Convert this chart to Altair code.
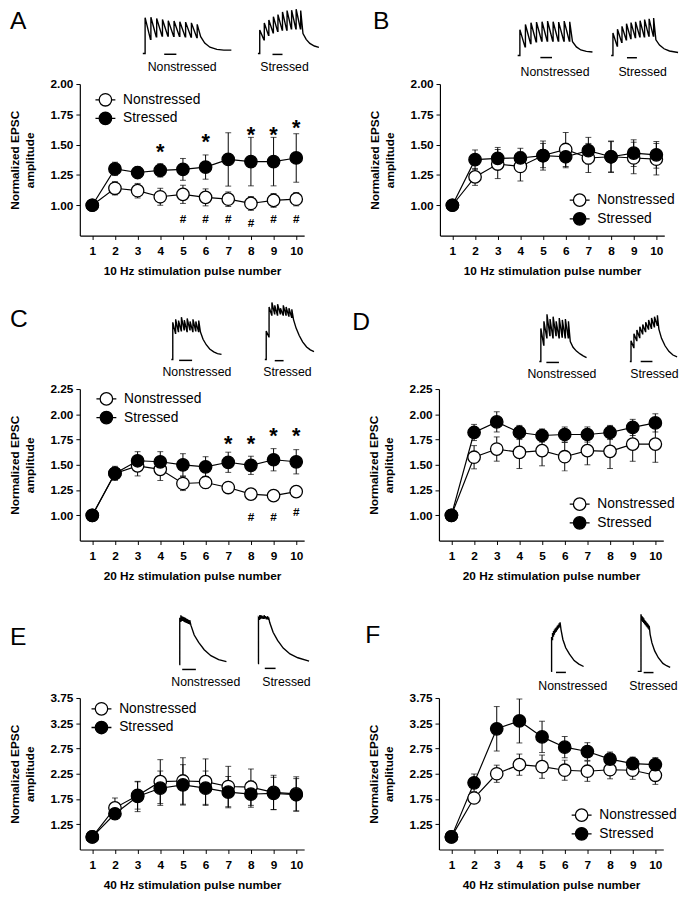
import altair as alt
import pandas as pd

FONT = "Liberation Sans"
PULSES = [1, 2, 3, 4, 5, 6, 7, 8, 9, 10]
GROUPS = ["Nonstressed", "Stressed"]
Y_TITLE = ["Normalized EPSC", "amplitude"]

# ---------------- summary data (mean, s.e.m.) ----------------
A_NS = [1.00, 1.14, 1.12, 1.07, 1.09, 1.065, 1.05, 1.015, 1.04, 1.05]
A_NS_ERR = [0, 0.055, 0.06, 0.07, 0.075, 0.07, 0.06, 0.057, 0.057, 0.055]
A_ST = [1.00, 1.30, 1.27, 1.288, 1.296, 1.315, 1.378, 1.36, 1.36, 1.39]
A_ST_ERR = [0, 0.055, 0.05, 0.055, 0.09, 0.10, 0.22, 0.20, 0.20, 0.20]
A_STAR_X = [4, 6, 8, 9, 10]
A_STAR_Y = [1.478, 1.565, 1.62, 1.62, 1.674]
A_HASH_X = [5, 6, 7, 8, 9, 10]
A_HASH_Y = [0.886, 0.886, 0.886, 0.853, 0.886, 0.886]

B_NS = [1.00, 1.234, 1.34, 1.32, 1.41, 1.46, 1.39, 1.40, 1.39, 1.38]
B_NS_ERR = [0, 0.07, 0.12, 0.12, 0.10, 0.14, 0.12, 0.13, 0.13, 0.13]
B_ST = [1.00, 1.376, 1.387, 1.39, 1.41, 1.40, 1.45, 1.40, 1.43, 1.416]
B_ST_ERR = [0, 0.08, 0.09, 0.08, 0.12, 0.09, 0.11, 0.125, 0.11, 0.11]

C_NS = [1.00, 1.415, 1.49, 1.455, 1.315, 1.325, 1.275, 1.21, 1.195, 1.235]
C_NS_ERR = [0, 0.06, 0.10, 0.11, 0.07, 0.06, 0.05, 0.05, 0.03, 0.03]
C_ST = [1.00, 1.415, 1.54, 1.53, 1.50, 1.48, 1.525, 1.495, 1.55, 1.53]
C_ST_ERR = [0, 0.07, 0.09, 0.10, 0.11, 0.10, 0.10, 0.09, 0.11, 0.12]
C_STAR_X = [7, 8, 9, 10]
C_STAR_Y = [1.756, 1.756, 1.828, 1.828]
C_HASH_X = [8, 9, 10]
C_HASH_Y = [0.984, 0.984, 1.032]

D_NS = [1.00, 1.575, 1.656, 1.623, 1.64, 1.58, 1.64, 1.633, 1.705, 1.705]
D_NS_ERR = [0, 0.115, 0.12, 0.16, 0.15, 0.14, 0.14, 0.17, 0.17, 0.18]
D_ST = [1.00, 1.82, 1.925, 1.82, 1.79, 1.80, 1.80, 1.82, 1.87, 1.915]
D_ST_ERR = [0, 0.08, 0.10, 0.07, 0.065, 0.075, 0.075, 0.07, 0.08, 0.09]

E_NS = [1.00, 1.575, 1.82, 2.094, 2.107, 2.094, 1.997, 1.984, 1.88, 1.85]
E_NS_ERR = [0, 0.195, 0.27, 0.435, 0.46, 0.45, 0.40, 0.36, 0.34, 0.34]
E_ST = [1.00, 1.458, 1.80, 1.964, 2.03, 1.964, 1.886, 1.847, 1.86, 1.834]
E_ST_ERR = [0, 0.10, 0.30, 0.34, 0.40, 0.34, 0.31, 0.26, 0.32, 0.32]

F_NS = [1.00, 1.77, 2.25, 2.43, 2.39, 2.32, 2.30, 2.33, 2.32, 2.22]
F_NS_ERR = [0, 0.08, 0.17, 0.21, 0.23, 0.20, 0.20, 0.18, 0.18, 0.18]
F_ST = [1.00, 2.07, 3.14, 3.295, 2.98, 2.776, 2.69, 2.54, 2.45, 2.43]
F_ST_ERR = [0, 0.175, 0.44, 0.435, 0.31, 0.21, 0.175, 0.14, 0.13, 0.14]

Y_TICKS_2 = [1.00, 1.25, 1.50, 1.75, 2.00]
Y_TICKS_225 = [1.00, 1.25, 1.50, 1.75, 2.00, 2.25]
Y_TICKS_375 = [1.25, 1.75, 2.25, 2.75, 3.25, 3.75]

# ---------------- example EPSC traces (normalized) ----------------
TR_A_NS = dict(pre=-0.4, peaks=[0.96, 0.97, 0.94, 0.91, 0.88, 0.87, 0.85, 0.84, 0.82, 0.78],
               troughs=[0.38, 0.45, 0.47, 0.47, 0.46, 0.46, 0.45, 0.44, 0.43],
               tail=[(0.6, 0.45), (1.3, 0.28), (2.2, 0.17), (3.4, 0.11), (4.6, 0.09), (5.9, 0.09)],
               bar=(3.3, 5.4, -0.02))
TR_A_ST = dict(pre=-0.4, peaks=[0.53, 0.69, 0.76, 0.83, 0.88, 0.94, 0.97, 0.98, 1.0, 0.97],
               troughs=[0.31, 0.41, 0.47, 0.5, 0.53, 0.53, 0.56, 0.56, 0.56],
               tail=[(0.5, 0.45), (1.2, 0.32), (2.0, 0.23), (3.0, 0.17), (4.0, 0.14)],
               bar=(2.8, 5.0, -0.02))
TR_B_NS = dict(pre=-0.4, peaks=[0.75, 0.9, 0.95, 0.97, 0.98, 1.0, 0.98, 0.97, 1.0, 0.98],
               troughs=[0.25, 0.35, 0.4, 0.42, 0.42, 0.42, 0.42, 0.42, 0.42],
               tail=[(0.5, 0.4), (1.2, 0.25), (2.0, 0.16), (3.0, 0.12), (4.1, 0.1)],
               bar=(3.7, 5.8, -0.06))
TR_B_ST = dict(pre=-0.4, peaks=[0.6, 0.7, 0.78, 0.85, 0.88, 0.9, 0.93, 0.96, 0.98, 1.0],
               troughs=[0.25, 0.35, 0.42, 0.45, 0.48, 0.5, 0.5, 0.52, 0.52],
               tail=[(0.5, 0.42), (1.3, 0.28), (2.3, 0.18), (3.5, 0.12), (5.4, 0.08)],
               bar=(3.1, 5.3, -0.06))
TR_C_NS = dict(pre=-0.5, peaks=[0.88, 0.95, 0.92, 1.0, 0.93, 0.97, 0.9, 0.95, 0.9, 0.92],
               troughs=[0.62, 0.66, 0.68, 0.7, 0.66, 0.7, 0.66, 0.68, 0.66],
               tail=[(0.6, 0.65), (1.5, 0.48), (2.6, 0.35), (3.8, 0.25), (5.2, 0.18), (6.5, 0.14), (7.9, 0.12)],
               bar=(2.2, 6.7, -0.02))
TR_C_ST = dict(pre=-0.5, peaks=[0.5, 0.92, 1.0, 0.95, 0.97, 0.9, 0.95, 0.92, 0.9, 0.88],
               troughs=[0.4, 0.78, 0.8, 0.78, 0.8, 0.78, 0.78, 0.76, 0.74],
               tail=[(0.6, 0.7), (1.5, 0.55), (2.6, 0.42), (3.8, 0.31), (5.2, 0.22), (6.5, 0.17), (7.8, 0.14)],
               bar=(3.0, 6.1, -0.02))
TR_D_NS = dict(pre=-0.5, peaks=[0.7, 0.85, 1.0, 0.9, 0.95, 0.85, 0.92, 0.88, 0.9, 0.85],
               troughs=[0.35, 0.5, 0.55, 0.5, 0.55, 0.5, 0.52, 0.5, 0.5],
               tail=[(0.6, 0.42), (1.5, 0.3), (2.6, 0.22), (3.8, 0.16), (4.8, 0.12), (5.9, 0.08)],
               bar=(1.8, 5.9, -0.02))
TR_D_ST = dict(pre=-0.4, peaks=[0.45, 0.6, 0.68, 0.75, 0.8, 0.85, 0.9, 0.94, 0.97, 1.0],
               troughs=[0.3, 0.45, 0.52, 0.6, 0.65, 0.7, 0.72, 0.75, 0.78],
               tail=[(0.5, 0.7), (1.4, 0.5), (2.6, 0.34), (3.9, 0.22), (5.3, 0.14), (6.7, 0.1)],
               bar=(3.3, 7.3, 0.0))
TR_E_NS = dict(pre=-0.5, peaks=[0.95, 1.0, 0.98, 0.97, 0.96, 0.95, 0.93, 0.92, 0.9, 0.9],
               troughs=[0.88, 0.9, 0.9, 0.88, 0.87, 0.86, 0.85, 0.84, 0.83],
               tail=[(1, 0.8), (4, 0.6), (8, 0.45), (13, 0.3), (19, 0.18), (26, 0.1), (33, 0.06)],
               bar=(2.2, 14.5, -0.1))
TR_E_ST = dict(pre=-0.5, peaks=[0.95, 1.0, 1.0, 0.99, 0.98, 1.0, 0.98, 0.97, 0.98, 0.96],
               troughs=[0.92, 0.94, 0.95, 0.94, 0.94, 0.95, 0.93, 0.93, 0.92],
               tail=[(1, 0.85), (4, 0.65), (8, 0.48), (13, 0.32), (19, 0.2), (26, 0.12), (36, 0.05)],
               bar=(5.6, 15.2, -0.1))
TR_F_NS = dict(pre=-0.5, peaks=[0.7, 0.78, 0.82, 0.85, 0.88, 0.9, 0.93, 0.95, 0.98, 1.0],
               troughs=[0.65, 0.72, 0.76, 0.8, 0.82, 0.85, 0.88, 0.9, 0.92],
               tail=[(1, 0.85), (3, 0.65), (6, 0.48), (10, 0.35), (15, 0.22), (20, 0.15), (25, 0.1)],
               bar=(4.7, 15.2, -0.02))
TR_F_ST = dict(pre=-3.6, peaks=[1.0, 0.97, 0.95, 0.93, 0.9, 0.88, 0.86, 0.84, 0.82, 0.8],
               troughs=[0.9, 0.88, 0.86, 0.84, 0.82, 0.8, 0.78, 0.76, 0.74],
               tail=[(1, 0.65), (3, 0.5), (6, 0.36), (10, 0.24), (15, 0.14), (19, 0.1), (23, 0.07)],
               bar=(2.9, 13.7, -0.02))

# ---------------- layout (pixels relative to each plot area) ----------------
W, H = 228, 154
LAYOUT = {
    "A": dict(leg=(19, 9), ns_x=(64, 154), ns_y=(-31, -69), st_x=(181, 243), st_y=(-31, -76),
              lab_ns=(104, -17), lab_st=(208, -17), letter=(-71, -76)),
    "B": dict(leg=(135, 111), ns_x=(79, 155), ns_y=(-29, -64), st_x=(174, 242), st_y=(-29, -67),
              lab_ns=(117, -12), lab_st=(206, -12), letter=(-68, -76)),
    "C": dict(leg=(20, 3), ns_x=(93, 144), ns_y=(-30, -73), st_x=(188, 238), st_y=(-30, -88),
              lab_ns=(119, -17), lab_st=(211, -17), letter=(-71, -83)),
    "D": dict(leg=(136, 110), ns_x=(102, 150), ns_y=(-28, -76), st_x=(194, 242), st_y=(-28, -75),
              lab_ns=(125, -15), lab_st=(219, -15), letter=(-88, -80)),
    "E": dict(leg=(15, 4), ns_x=(101, 149), ns_y=(-34, -84), st_x=(181, 233), st_y=(-35, -84),
              lab_ns=(128, -16), lab_st=(210, -16), letter=(-71, -74)),
    "F": dict(leg=(138, 112), ns_x=(114, 147), ns_y=(-27, -77), st_x=(202, 235), st_y=(-27, -85),
              lab_ns=(136, -12), lab_st=(218, -12), letter=(-75, -76)),
}

SYMBOL = "M-1.6,0L-1,0M1,0L1.6,0M1,0A1,1,0,1,1,-1,0A1,1,0,1,1,1,0Z"


def main_chart(ns, ns_err, st, st_err, ydom, yvals, xtitle, leg,
               star_x=None, star_y=None, hash_x=None, hash_y=None):
    rows = []
    for g, ms, es in ((GROUPS[0], ns, ns_err), (GROUPS[1], st, st_err)):
        for p, m, e in zip(PULSES, ms, es):
            rows.append(dict(pulse=p, group=g, mean=m, lo=m - e, hi=m + e))
    df = pd.DataFrame(rows)
    xs = alt.Scale(domain=[0.45, 10.35], nice=False, zero=False)
    ys = alt.Scale(domain=ydom, nice=False, zero=False)
    xax = alt.Axis(values=PULSES, format="d", title=xtitle, labelPadding=6, titlePadding=10)
    yax = alt.Axis(values=yvals, format=".2f", title=Y_TITLE, labelPadding=3,
                   titlePadding=14, titleLineHeight=15)

    def X(f):
        return alt.X(f, scale=xs, axis=xax)

    def Y(f):
        return alt.Y(f, scale=ys, axis=yax)

    base = alt.Chart(df)
    rules = base.mark_rule(color="black", strokeWidth=1).encode(x=X("pulse:Q"), y=Y("lo:Q"), y2="hi:Q")
    cap_hi = base.mark_tick(orient="horizontal", color="black", size=6, thickness=1).encode(
        x=X("pulse:Q"), y=Y("hi:Q"))
    cap_lo = base.mark_tick(orient="horizontal", color="black", size=6, thickness=1).encode(
        x=X("pulse:Q"), y=Y("lo:Q"))
    lines = base.mark_line(color="black", strokeWidth=1.2).encode(
        x=X("pulse:Q"), y=Y("mean:Q"), detail="group:N")
    pts = base.mark_point(shape="circle", filled=True, size=160, stroke="black",
                          strokeWidth=1.3, opacity=1).encode(
        x=X("pulse:Q"), y=Y("mean:Q"),
        fill=alt.Fill("group:N", scale=alt.Scale(domain=GROUPS, range=["white", "black"]),
                      legend=alt.Legend(title=None, orient="none", legendX=leg[0], legendY=leg[1],
                                        symbolType=SYMBOL, symbolSize=160, symbolStrokeColor="black",
                                        symbolStrokeWidth=1.3, symbolOpacity=1,
                                        labelFont=FONT, labelFontSize=14, labelColor="black",
                                        labelOffset=11, rowPadding=1, padding=0)))
    layers = [rules, cap_hi, cap_lo, lines, pts]
    if star_x:
        sdf = pd.DataFrame({"pulse": star_x, "yv": star_y})
        layers.append(alt.Chart(sdf).mark_text(text="*", font=FONT, fontSize=22, fontWeight="bold",
                                               baseline="alphabetic", dy=12, color="black").encode(
            x=X("pulse:Q"), y=Y("yv:Q")))
    if hash_x:
        hdf = pd.DataFrame({"pulse": hash_x, "yv": hash_y})
        layers.append(alt.Chart(hdf).mark_text(text="#", font=FONT, fontSize=12, fontWeight="bold",
                                               baseline="middle", color="black").encode(
            x=X("pulse:Q"), y=Y("yv:Q")))
    return alt.layer(*layers)


def trace_df(tr):
    pts = [(tr["pre"], 0.0), (0.0, 0.0)]
    prev = 0.0
    n = len(tr["peaks"])
    for i, p in enumerate(tr["peaks"]):
        pts.append((i, prev))
        pts.append((i, p))
        if i < len(tr["troughs"]):
            pts.append((i + 0.92, tr["troughs"][i]))
            prev = tr["troughs"][i]
    for dt, v in tr["tail"]:
        pts.append((n - 1 + dt, v))
    return pd.DataFrame({"k": list(range(len(pts))), "t": [a for a, _ in pts], "v": [b for _, b in pts]})


def trace_chart(tr, xr, yr):
    df = trace_df(tr)
    t_end = len(tr["peaks"]) - 1 + tr["tail"][-1][0]
    xs = alt.Scale(domain=[tr["pre"], t_end], range=list(xr), nice=False, zero=False)
    ys = alt.Scale(domain=[0, 1], range=list(yr), nice=False, zero=False)
    line = alt.Chart(df).mark_line(color="black", strokeWidth=1.4).encode(
        x=alt.X("t:Q", scale=xs, axis=None), y=alt.Y("v:Q", scale=ys, axis=None), order="k:Q")
    bdf = pd.DataFrame({"t0": [tr["bar"][0]], "t1": [tr["bar"][1]], "v": [tr["bar"][2]]})
    bar = alt.Chart(bdf).mark_rule(color="black", strokeWidth=1.5).encode(
        x=alt.X("t0:Q", scale=xs, axis=None), x2="t1:Q", y=alt.Y("v:Q", scale=ys, axis=None))
    return alt.layer(line, bar)


def label(txt, pos, size=12.5, align="center", baseline="middle"):
    return alt.Chart(pd.DataFrame({"d": [0]})).mark_text(
        text=txt, font=FONT, fontSize=size, align=align, baseline=baseline, color="black").encode(
        x=alt.value(pos[0]), y=alt.value(pos[1]))


def panel(key, main, tr_ns, tr_st):
    L = LAYOUT[key]
    return alt.layer(
        main,
        trace_chart(tr_ns, L["ns_x"], L["ns_y"]),
        trace_chart(tr_st, L["st_x"], L["st_y"]),
        label("Nonstressed", L["lab_ns"]),
        label("Stressed", L["lab_st"]),
        label(key, L["letter"], size=25, align="left", baseline="top"),
    ).resolve_scale(x="independent", y="independent").properties(width=W, height=H)


pA = panel("A", main_chart(A_NS, A_NS_ERR, A_ST, A_ST_ERR, [0.75, 2.0], Y_TICKS_2,
                           "10 Hz stimulation pulse number", LAYOUT["A"]["leg"],
                           A_STAR_X, A_STAR_Y, A_HASH_X, A_HASH_Y), TR_A_NS, TR_A_ST)
pB = panel("B", main_chart(B_NS, B_NS_ERR, B_ST, B_ST_ERR, [0.75, 2.0], Y_TICKS_2,
                           "10 Hz stimulation pulse number", LAYOUT["B"]["leg"]), TR_B_NS, TR_B_ST)
pC = panel("C", main_chart(C_NS, C_NS_ERR, C_ST, C_ST_ERR, [0.75, 2.25], Y_TICKS_225,
                           "20 Hz stimulation pulse number", LAYOUT["C"]["leg"],
                           C_STAR_X, C_STAR_Y, C_HASH_X, C_HASH_Y), TR_C_NS, TR_C_ST)
pD = panel("D", main_chart(D_NS, D_NS_ERR, D_ST, D_ST_ERR, [0.75, 2.25], Y_TICKS_225,
                           "20 Hz stimulation pulse number", LAYOUT["D"]["leg"]), TR_D_NS, TR_D_ST)
pE = panel("E", main_chart(E_NS, E_NS_ERR, E_ST, E_ST_ERR, [0.75, 3.75], Y_TICKS_375,
                           "40 Hz stimulation pulse number", LAYOUT["E"]["leg"]), TR_E_NS, TR_E_ST)
pF = panel("F", main_chart(F_NS, F_NS_ERR, F_ST, F_ST_ERR, [0.75, 3.75], Y_TICKS_375,
                           "40 Hz stimulation pulse number", LAYOUT["F"]["leg"]), TR_F_NS, TR_F_ST)

IND = dict(fill="independent")
row1 = alt.hconcat(pA, pB, spacing=47).resolve_scale(**IND)
row2 = alt.hconcat(pC, pD, spacing=36).resolve_scale(**IND)
row3 = alt.hconcat(pE, pF, spacing=54).resolve_scale(**IND)
rows23 = alt.vconcat(row2, row3, spacing=30).resolve_scale(**IND)

chart = alt.vconcat(row1, rows23, spacing=23).resolve_scale(**IND).properties(
    padding={"left": 0, "top": -9, "right": 0, "bottom": 0})
chart = chart.configure(font=FONT).configure_view(stroke=None).configure_axis(
    labelFont=FONT, titleFont=FONT, labelFontSize=12, titleFontSize=12,
    labelFontWeight="bold", titleFontWeight="bold", labelColor="black", titleColor="black",
    domainColor="black", tickColor="black", tickSize=4, domainWidth=1.2, tickWidth=1, grid=False)

chart.save("out.html", embed_options={"renderer": "svg", "actions": False})
